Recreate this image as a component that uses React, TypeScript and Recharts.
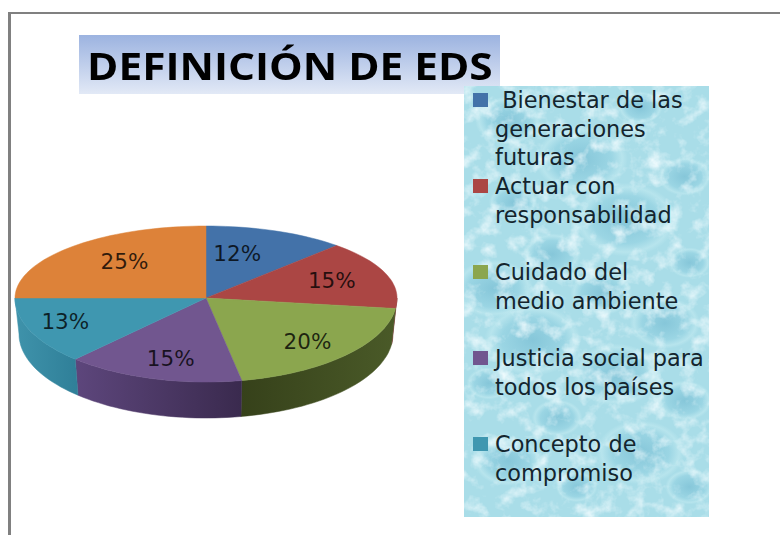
import React from 'react';
import { PieChart, Pie, Cell, Legend } from 'recharts';

const categories = [
  ' Bienestar de las generaciones futuras',
  'Actuar con responsabilidad',
  'Cuidado del\nmedio ambiente',
  'Justicia social para todos los países',
  'Concepto de compromiso',
  '',
];
const values = [12, 15, 20, 15, 13, 25];
const topColors = ['#4372a9', '#ab4644', '#8ba64e', '#71568f', '#3f97b0', '#dd8239'];
const wallFills = ['#2f5078', '#7a2f2e', 'url(#wallGreen)', 'url(#wallPurple)', 'url(#wallTeal)', '#a85f28'];

const data = categories.map((name, i) => ({ name, value: values[i] }));

const RX = 191;
const RY_UP = 72;
const RY_DOWN = 84;
const DEPTH = 36;
const BOTTOM_RX = 187;
const FONT = '"DejaVu Sans", sans-serif';

// top of the disc is a bit squashed at the back, like the perspective in the original
const rimPoint = (cx: number, cy: number, deg: number, rx = RX) => {
  const s = Math.sin((deg * Math.PI) / 180);
  const c = Math.cos((deg * Math.PI) / 180);
  return [cx + rx * c, cy - (s > 0 ? RY_UP : RY_DOWN) * s];
};

const arcPoints = (cx: number, cy: number, from: number, to: number, rx = RX) => {
  const pts: number[][] = [];
  const steps = Math.max(2, Math.ceil(Math.abs(to - from) / 2));
  for (let i = 0; i <= steps; i++) pts.push(rimPoint(cx, cy, from + ((to - from) * i) / steps, rx));
  return pts;
};

const toPath = (pts: number[][]) => pts.map((p, i) => `${i ? 'L' : 'M'}${p[0].toFixed(1)},${p[1].toFixed(1)}`).join(' ');

const TopSlice = (props: any) => {
  const { cx, cy, startAngle, endAngle, fill } = props;
  const d = `M${cx},${cy} ${toPath(arcPoints(cx, cy, startAngle, endAngle)).replace('M', 'L')} Z`;
  return <path d={d} fill={fill} stroke={fill} strokeWidth={0.5} />;
};

// only the part of a slice in the front half (angles -180..0) shows a wall
const WallSlice = (props: any) => {
  const { cx, cy, startAngle, endAngle, fill } = props;
  const from = Math.min(startAngle, 0);
  const to = Math.max(endAngle, -180);
  if (from <= to) return null;
  const top = arcPoints(cx, cy, from, to);
  const bottom = arcPoints(cx, cy + DEPTH, to, from, BOTTOM_RX);
  return <path d={`${toPath(top)} ${toPath(bottom).replace('M', 'L')} Z`} fill={fill} stroke={fill} strokeWidth={0.5} />;
};

const labelNudge = [[-18, 2], [0, 0], [4, 3], [2, 4], [-18, 0], [13, -1]];

const PercentLabel = (props: any) => {
  const { cx, cy, midAngle, value, index } = props;
  const [x, y] = rimPoint(cx, cy, midAngle, RX * 0.7);
  const yy = cy + (y - cy) * 0.7;
  return (
    <text
      x={x + labelNudge[index][0]}
      y={yy + labelNudge[index][1]}
      textAnchor="middle"
      dominantBaseline="central"
      fontFamily={FONT}
      fontSize={21.5}
      fill="#000"
      fillOpacity={0.78}
    >
      {value}%
    </text>
  );
};

const droplets = [
  [18, 8, 60], [72, 5, 40], [48, 17, 84], [90, 21, 48], [20, 27, 44], [66, 31, 92], [36, 39, 52], [92, 41, 38],
  [12, 47, 72], [56, 48, 56], [82, 55, 64], [28, 59, 88], [62, 67, 78], [10, 69, 40], [90, 73, 50], [38, 77, 46],
  [72, 85, 80], [18, 87, 62], [46, 93, 38], [92, 93, 44],
];

const noise =
  "url(\"data:image/svg+xml,%3Csvg xmlns='http://www.w3.org/2000/svg' width='245' height='431'%3E%3Cfilter id='n'%3E%3CfeTurbulence type='fractalNoise' baseFrequency='0.06' numOctaves='4' seed='11'/%3E%3CfeColorMatrix values='0 0 0 0 0.9 0 0 0 0 0.98 0 0 0 0 1 2.0 0 0 0 -0.95'/%3E%3C/filter%3E%3Crect width='245' height='431' filter='url(%23n)'/%3E%3C/svg%3E\")";

const waterBackground = [
  noise,
  ...droplets.map(
    ([x, y, r]) =>
      `radial-gradient(ellipse ${r * 0.55}px ${r * 0.4}px at ${x}% ${y}%, rgba(105,180,205,0.55) 0%, rgba(130,200,220,0.36) 65%, rgba(215,245,248,0.3) 88%, rgba(225,248,250,0) 100%)`
  ),
].join(', ');

const legendGaps = [0, 28.7, 28.7, 28.7, 0];

const WaterLegend = (props: any) => {
  // the payload holds both pies, sorted by name: pick the top pie's entries in data order
  const payload = props.payload || [];
  const items = categories
    .map((name, i) => payload.find((p: any) => p.value === name && p.color === topColors[i]))
    .filter((p: any) => p && p.value);
  return (
    <div
      style={{
        width: 245,
        height: 431,
        boxSizing: 'border-box',
        backgroundColor: '#a9dde8',
        backgroundImage: waterBackground,
        fontFamily: FONT,
        fontSize: 22.4,
        lineHeight: '28.7px',
        color: '#14252e',
        paddingLeft: 9,
      }}
    >
      {items.map((p: any, i: number) => (
        <div key={p.value} style={{ display: 'flex', marginBottom: legendGaps[i] }}>
          <span style={{ flex: 'none', width: 15, height: 14, marginTop: 7, marginRight: 7, background: p.color }} />
          <span style={{ whiteSpace: 'pre-wrap', width: 214 }}>{p.value}</span>
        </div>
      ))}
    </div>
  );
};

export default function App() {
  return (
    <div style={{ position: 'absolute', left: 0, top: 0, width: 780, height: 535, background: '#fff', overflow: 'hidden' }}>
      <div style={{ position: 'absolute', left: 8, top: 12, width: 780, height: 540, borderTop: '2px solid #808080', borderLeft: '3px solid #808080' }} />
      <div
        style={{
          position: 'absolute',
          left: 79,
          top: 35,
          width: 421,
          height: 59,
          background: 'linear-gradient(#9cb3e0, #e2e9f6)',
          fontFamily: '"Open Sans", sans-serif',
          fontWeight: 700,
          fontSize: 38,
          lineHeight: '60px',
          textAlign: 'center',
          color: '#000',
          whiteSpace: 'nowrap',
        }}
      >
        <span style={{ display: 'inline-block', transform: 'scaleX(1.115)' }}>DEFINICIÓN DE EDS</span>
      </div>
      <div style={{ position: 'absolute', left: 0, top: 0 }}>
        <PieChart width={780} height={535} margin={{ top: 0, right: 0, bottom: 0, left: 0 }}>
          <defs>
            <linearGradient id="wallGreen" x1="0" y1="0" x2="1" y2="0">
              <stop offset="0%" stopColor="#36411a" />
              <stop offset="100%" stopColor="#4a5a28" />
            </linearGradient>
            <linearGradient id="wallPurple" x1="0" y1="0" x2="1" y2="0">
              <stop offset="0%" stopColor="#5d467c" />
              <stop offset="100%" stopColor="#3a2a4e" />
            </linearGradient>
            <linearGradient id="wallTeal" x1="0" y1="0" x2="1" y2="0">
              <stop offset="0%" stopColor="#3f93ab" />
              <stop offset="100%" stopColor="#2f7f98" />
            </linearGradient>
          </defs>
          <Pie
            data={data}
            dataKey="value"
            nameKey="name"
            cx={206}
            cy={298}
            outerRadius={RX}
            startAngle={90}
            endAngle={-270}
            isAnimationActive={false}
            legendType="none"
            shape={WallSlice}
            stroke="none"
          >
            {data.map((d, i) => (
              <Cell key={i} fill={wallFills[i]} />
            ))}
          </Pie>
          <Pie
            data={data}
            dataKey="value"
            nameKey="name"
            cx={206}
            cy={298}
            outerRadius={RX}
            startAngle={90}
            endAngle={-270}
            isAnimationActive={false}
            shape={TopSlice}
            label={PercentLabel}
            labelLine={false}
            stroke="none"
          >
            {data.map((d, i) => (
              <Cell key={i} fill={topColors[i]} />
            ))}
          </Pie>
          <Legend content={WaterLegend} wrapperStyle={{ position: 'absolute', left: 464, top: 86, width: 245, height: 431 }} />
        </PieChart>
      </div>
    </div>
  );
}
